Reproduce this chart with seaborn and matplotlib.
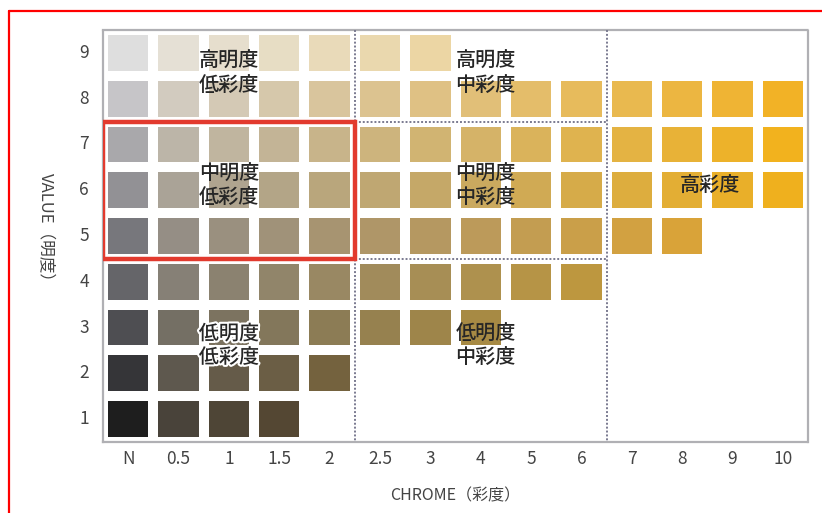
import numpy as np
import pandas as pd
import matplotlib
matplotlib.use("Agg")
import matplotlib.pyplot as plt
import matplotlib.patheffects as pe
from matplotlib.colors import ListedColormap, to_rgb, to_hex
from matplotlib.patches import Rectangle
from matplotlib.lines import Line2D
import seaborn as sns

sns.set_style("white")
plt.rcParams["font.family"] = ["Noto Sans CJK JP", "DejaVu Sans"]

# data
chroma_labels = ["N", "0.5", "1", "1.5", "2", "2.5", "3", "4", "5", "6", "7", "8", "9", "10"]
value_labels = [9, 8, 7, 6, 5, 4, 3, 2, 1]
# highest chroma present in each value row (top to bottom)
row_max_chroma = ["3", "10", "10", "10", "8", "6", "4", "2", "1.5"]

# colour look: neutral grey per row, vivid end per row, mix per chroma step
row_gray = ["#dedede", "#c6c5c8", "#a9a8ab", "#929195", "#77777c",
            "#656569", "#4e4e52", "#353538", "#1e1e1e"]
row_vivid = ["#f6c658", "#f2b226", "#f2b21e", "#efb01e", "#e8a828",
             "#dca420", "#e0a820", "#c08408", "#9a6004"]
chroma_mix = [0, 0.10, 0.16, 0.22, 0.30, 0.38, 0.45, 0.52, 0.60, 0.68, 0.76, 0.84, 0.92, 1.0]

# build cell index grid + colour list
grid = np.full((len(value_labels), len(chroma_labels)), np.nan)
colors = []
for r, v in enumerate(value_labels):
    last = chroma_labels.index(row_max_chroma[r])
    g = np.array(to_rgb(row_gray[r]))
    viv = np.array(to_rgb(row_vivid[r]))
    for c in range(last + 1):
        t = chroma_mix[c]
        base = g if c == 0 else g + (1 - g) * 0.15
        col = base * (1 - t) + viv * t
        grid[r, c] = len(colors)
        colors.append(to_hex(np.clip(col, 0, 1)))

df = pd.DataFrame(grid, index=value_labels, columns=chroma_labels)
cmap = ListedColormap(colors)

fig = plt.figure(figsize=(8.22, 5.13), dpi=100)
ax = fig.add_axes([0.1253, 0.1384, 0.8577, 0.8031])

sns.heatmap(df, cmap=cmap, vmin=-0.5, vmax=len(colors) - 0.5, cbar=False,
            linewidths=6, linecolor="white", ax=ax)

# frame
for s in ax.spines.values():
    s.set_visible(True)
    s.set_color("#b0b0b4")
    s.set_linewidth(1.6)
    s.set_linestyle((0, (1, 1)))

# dotted dividers
div = dict(color="#7a7a90", lw=1.4, ls=(0, (1, 1)), zorder=5)
ax.plot([5, 5], [0, 9], **div)
ax.plot([10, 10], [0, 9], **div)
ax.plot([5, 10], [2, 2], **div)
ax.plot([5, 10], [5, 5], **div)

# red highlight
ax.add_patch(Rectangle((0, 2), 5, 3, fill=False, edgecolor="#e23a2e", lw=3.2, zorder=6))

# region labels
txt = dict(ha="center", va="center", fontsize=14.5, color="#262626", fontweight="medium",
           linespacing=1.3, zorder=7)
ax.text(2.5, 0.95, "高明度\n低彩度", **txt)
ax.text(7.6, 0.95, "高明度\n中彩度", **txt)
ax.text(2.5, 3.4, "中明度\n低彩度", **txt)
ax.text(7.6, 3.4, "中明度\n中彩度", **txt)
ax.text(12.05, 3.4, "高彩度", **txt)
ax.text(2.5, 6.9, "低明度\n低彩度", path_effects=[pe.withStroke(linewidth=3, foreground="white")], **txt)
ax.text(7.6, 6.9, "低明度\n中彩度", **txt)

ax.tick_params(axis="both", length=0, labelsize=12.5, labelcolor="#444444")
ax.tick_params(axis="x", pad=6)
ax.tick_params(axis="y", pad=10)
ax.set_yticklabels(value_labels, rotation=0)
ax.set_xticklabels(chroma_labels, rotation=0)
ax.set_xlabel("CHROME（彩度）", fontsize=11.5, color="#444444", labelpad=14)
ax.set_ylabel("VALUE（明度）", fontsize=12, color="#444444", rotation=270, labelpad=28, va="center")
ax.yaxis.set_label_coords(-0.082, 0.51)

# outer red frame
fig.add_artist(Line2D([0.011, 1.0], [0.9786, 0.9786], color="#ff0000", lw=1.6))
fig.add_artist(Line2D([0.011, 0.011], [0.0, 0.9786], color="#ff0000", lw=1.6))

plt.savefig("out.png", dpi=100)
plt.close()
